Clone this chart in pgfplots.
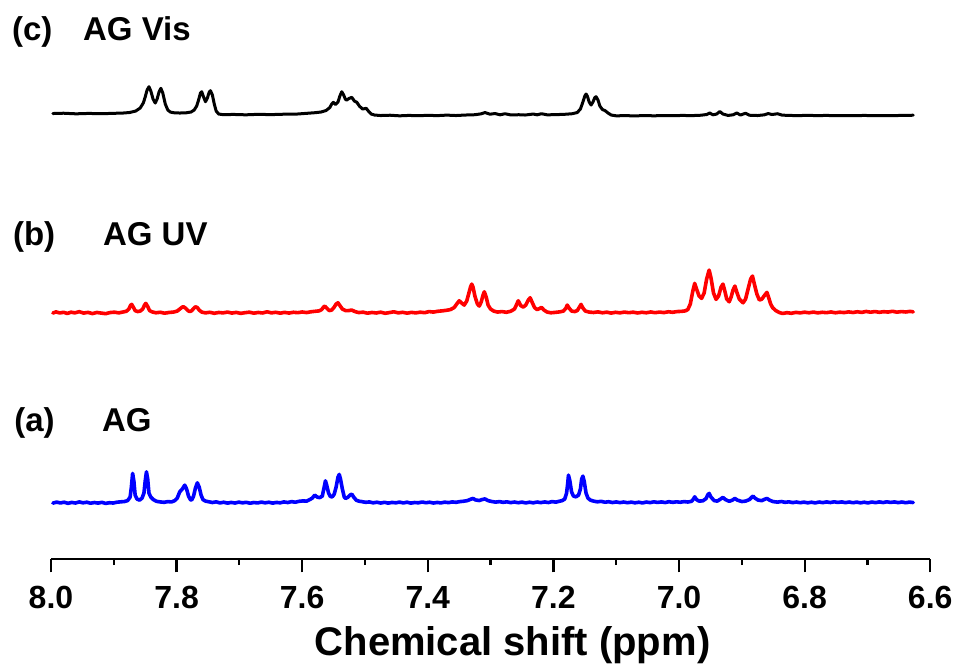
\documentclass[border=0pt]{standalone}
\usepackage{pgfplots}
\pgfplotsset{compat=1.18}
\usepackage{fontspec}
\setmainfont{Liberation Sans}
\begin{document}
\begin{tikzpicture}
\begin{axis}[
  width=439.5pt, height=279.5pt, scale only axis,
  xmin=6.6, xmax=8.0, x dir=reverse,
  ymin=0, ymax=559,
  axis x line*=bottom, axis y line=none,
  x axis line style={-, line width=1.1pt},
  ytick=\empty,
  xtick={8.0,7.8,7.6,7.4,7.2,7.0,6.8,6.6},
  xticklabels={8.0,7.8,7.6,7.4,7.2,7.0,6.8,6.6},
  minor x tick num=1,
  tick align=outside,
  major tick length=6.65pt, minor tick length=3pt,
  every tick/.style={line width=1.1pt, black},
  xticklabel style={font=\fontsize{16}{16}\selectfont\bfseries, anchor=base, yshift=-18pt, inner sep=0pt},
  clip=false,
  every axis plot/.append style={line join=round, line cap=round},
]
% (c) AG Vis
\addplot[black, line width=1.5pt] table {
x y
7.997 445.5
7.980 445.8
7.960 445.2
7.940 445.6
7.920 445.3
7.900 445.7
7.885 446.0
7.875 446.5
7.865 448
7.858 451
7.853 456
7.850 462
7.847 469
7.844 472.3
7.841 468
7.8375 460
7.834 456
7.831 460
7.828 467
7.825 470.7
7.822 466
7.818 455
7.814 449
7.810 447
7.805 446.3
7.795 446
7.785 446.2
7.777 447
7.772 449
7.768 453
7.765 459
7.762 466
7.760 467.3
7.757 462
7.754 457.3
7.751 461
7.748 467
7.746 468.3
7.743 464
7.740 455
7.737 448
7.733 445
7.725 444.3
7.710 444.6
7.690 444.2
7.670 444.7
7.650 444.4
7.630 444.8
7.610 444.9
7.595 445.6
7.580 446.3
7.570 447
7.562 448.5
7.556 451.5
7.553 455
7.5505 456.7
7.547 454.5
7.543 457
7.540 463
7.537 467.3
7.534 464
7.531 459.5
7.529 459
7.5255 460.5
7.521 461.7
7.517 458
7.513 456.7
7.509 453
7.504 450
7.498 450.7
7.494 447.5
7.490 445
7.485 444
7.475 443.5
7.460 443.8
7.445 443.2
7.430 443.6
7.415 443.3
7.400 443.7
7.385 443.4
7.370 443.9
7.355 443.5
7.340 444
7.325 444.3
7.315 445.2
7.309 446.5
7.301 444.8
7.293 445.5
7.285 444.2
7.277 445.3
7.268 444.1
7.255 444.3
7.245 444
7.232 445
7.226 444.2
7.219 445.3
7.210 444.2
7.195 444.4
7.180 444.8
7.170 445.3
7.162 446.5
7.157 450
7.153 457
7.150 463
7.148 465
7.146 463
7.143 457
7.140 454
7.137 457
7.134 461.5
7.132 462.3
7.129 459
7.126 453
7.122 449.5
7.118 448.5
7.113 446
7.108 444
7.100 443.2
7.085 443.4
7.070 443.1
7.055 443.5
7.040 443.2
7.025 443.5
7.010 443.3
6.995 443.6
6.980 443.4
6.965 443.8
6.956 444.5
6.951 446
6.946 444.2
6.940 445
6.935 447.5
6.930 445
6.922 443.6
6.914 444.2
6.908 446
6.902 444
6.894 445.8
6.888 443.8
6.875 443.5
6.864 444.2
6.858 445.5
6.852 444.5
6.843 445.3
6.836 443.9
6.825 443.6
6.810 443.4
6.795 443.7
6.780 443.4
6.765 443.6
6.750 443.3
6.735 443.5
6.720 443.3
6.705 443.6
6.690 443.3
6.675 443.5
6.660 443.4
6.645 443.6
6.627 443.8
};
% (b) AG UV
\addplot[red, line width=1.8pt] table {
x y
7.997 246.0
7.992 247.2
7.986 246.1
7.980 246.8
7.974 245.6
7.968 246.9
7.962 246.2
7.955 247.4
7.948 246.0
7.941 246.7
7.934 245.5
7.927 246.6
7.920 246.0
7.913 245.4
7.906 246.5
7.899 246.9
7.892 246.2
7.886 247.0
7.880 247.8
7.876 250
7.8735 253.5
7.8715 254.7
7.869 252
7.866 248.5
7.862 247.5
7.858 248
7.854 250
7.851 254
7.849 255.7
7.846 252.5
7.843 248.5
7.839 247.2
7.833 246.3
7.826 246.8
7.819 245.9
7.812 246.6
7.805 247.0
7.799 248
7.795 250
7.791 252
7.789 252.3
7.786 251
7.782 248.5
7.779 247.5
7.776 248.3
7.773 250.5
7.770 252.3
7.767 251.5
7.764 249
7.760 247
7.754 246.2
7.747 246.8
7.740 245.8
7.733 246.6
7.726 246.2
7.719 247.0
7.712 246.0
7.705 246.7
7.698 245.7
7.691 246.4
7.684 246.9
7.677 245.9
7.670 246.6
7.663 246.1
7.656 247.3
7.649 246.2
7.642 246.8
7.635 245.9
7.628 246.7
7.621 246.0
7.614 246.8
7.607 246.4
7.600 247.1
7.593 246.5
7.586 247.3
7.579 247.8
7.573 248.2
7.569 249.5
7.566 252
7.564 253
7.561 251
7.557 248.5
7.553 249
7.549 252
7.546 255
7.543 256.3
7.540 253.5
7.536 250
7.531 248.5
7.526 248.5
7.521 249
7.516 247.5
7.510 246.5
7.503 246.9
7.496 245.9
7.489 246.6
7.482 246.1
7.475 246.9
7.468 245.8
7.461 246.5
7.454 247.3
7.447 246.2
7.440 246.8
7.433 245.9
7.426 246.7
7.419 246.2
7.412 246.9
7.405 246.4
7.398 247.5
7.391 247.0
7.384 247.8
7.377 248.2
7.370 248.8
7.364 249.5
7.358 251.5
7.354 255
7.350 258.3
7.346 256
7.342 254
7.338 258
7.335 265
7.332 272
7.330 275
7.328 272
7.325 263
7.321 255
7.318 253
7.315 257
7.312 264
7.310 267.3
7.307 262
7.304 254
7.300 250
7.295 248
7.289 247
7.282 247.5
7.275 246.8
7.268 247.8
7.262 250
7.259 254
7.256 258.3
7.252 253.5
7.248 252
7.244 254
7.240 259
7.237 261.3
7.234 257
7.230 251.5
7.226 249.5
7.222 250.5
7.219 251.7
7.215 249
7.210 247
7.204 246.3
7.197 246.7
7.190 247.2
7.184 248
7.180 251
7.178 254
7.175 251
7.171 248
7.166 247.5
7.162 248.5
7.159 251.5
7.156 254.7
7.153 251
7.149 248
7.143 247
7.136 246.6
7.129 247.2
7.122 246.3
7.115 246.9
7.108 246.0
7.101 246.8
7.094 246.2
7.087 247.0
7.080 246.4
7.073 246.9
7.066 246.1
7.059 246.8
7.052 246.3
7.045 247.1
7.038 246.4
7.031 247.0
7.024 246.5
7.017 247.3
7.010 246.8
7.003 247.5
6.996 247.7
6.990 248.2
6.986 249.5
6.982 255
6.978 268
6.975 275.7
6.972 270
6.968 263
6.964 260.7
6.960 266
6.956 280
6.952 289
6.949 281
6.945 266
6.941 259.7
6.937 263
6.933 272
6.930 275
6.927 268
6.924 260
6.920 257.3
6.917 262
6.914 269
6.911 273
6.908 267
6.904 260
6.898 256.3
6.894 260
6.890 270
6.886 280
6.883 283
6.880 275
6.876 265
6.872 259
6.868 260
6.864 263.5
6.860 266.7
6.857 261
6.854 255
6.851 251.5
6.846 248.5
6.840 246.5
6.835 245.6
6.828 246.4
6.821 245.8
6.814 246.7
6.807 246.2
6.800 246.9
6.793 246.3
6.786 247.0
6.779 246.2
6.772 246.8
6.765 246.4
6.758 247.1
6.751 246.3
6.744 246.9
6.737 246.5
6.730 247.2
6.723 246.6
6.716 247.3
6.709 246.7
6.702 247.6
6.695 246.9
6.688 247.5
6.681 246.8
6.674 247.4
6.667 247.0
6.660 247.8
6.653 246.9
6.646 247.5
6.639 247.1
6.632 247.7
6.627 247.2
};
% (a) AG
\addplot[blue, line width=1.8pt] table {
x y
7.997 56.0
7.991 57.0
7.985 56.2
7.979 56.9
7.973 55.8
7.967 56.7
7.961 56.1
7.955 57.2
7.949 56.3
7.943 56.9
7.937 55.9
7.931 56.6
7.925 56.0
7.919 56.8
7.913 55.7
7.907 56.4
7.901 56.1
7.895 56.9
7.889 57.3
7.883 57.6
7.878 58.5
7.874 62
7.872 72
7.870 85.7
7.868 78
7.866 64
7.863 60
7.859 59
7.855 61
7.852 66
7.850 78
7.848 87.3
7.846 80
7.844 66
7.841 62
7.837 59.5
7.832 57.8
7.826 57.2
7.820 56.8
7.814 57.5
7.808 57.2
7.803 58.5
7.799 61
7.795 67.3
7.791 70
7.787 74
7.784 70
7.781 63
7.778 59.5
7.776 59
7.773 63
7.770 71
7.767 76.3
7.764 72
7.761 64
7.758 59.5
7.754 58
7.749 57.4
7.743 56.6
7.737 57.3
7.731 56.2
7.725 56.9
7.719 56.0
7.713 56.7
7.707 56.1
7.701 57.0
7.695 56.3
7.689 56.8
7.683 55.9
7.677 56.6
7.671 56.2
7.665 57.0
7.659 56.3
7.653 56.9
7.647 56.0
7.641 56.7
7.635 56.3
7.629 57.2
7.623 56.6
7.617 57.5
7.611 56.9
7.605 57.8
7.599 58.2
7.593 58.0
7.588 59.5
7.584 61
7.580 64
7.576 62
7.572 61.5
7.568 63
7.565 72
7.563 78.3
7.561 74
7.558 66
7.555 62.5
7.552 62.3
7.549 65
7.546 72
7.543 82
7.541 84.7
7.539 80
7.536 70
7.533 62
7.531 60.7
7.527 62
7.524 64
7.521 65
7.518 62
7.514 59
7.510 58
7.505 57.5
7.499 56.8
7.493 57.2
7.487 56.3
7.481 56.9
7.475 56.1
7.469 56.8
7.463 56.0
7.457 56.7
7.451 56.3
7.445 57.0
7.439 56.2
7.433 56.9
7.427 56.0
7.421 56.6
7.415 56.3
7.409 57.1
7.403 56.4
7.397 56.9
7.391 56.1
7.385 56.7
7.379 56.2
7.373 57.0
7.367 56.5
7.361 57.2
7.355 56.8
7.349 57.5
7.343 57.9
7.337 58.5
7.332 59.8
7.328 60.7
7.324 59.2
7.318 58.6
7.314 59.5
7.309 60.2
7.304 58.5
7.298 57.6
7.292 57.0
7.286 57.5
7.280 56.8
7.274 57.3
7.268 56.5
7.262 57.1
7.256 56.4
7.250 57.0
7.244 56.2
7.238 56.9
7.232 56.3
7.226 57.1
7.220 56.5
7.214 57.2
7.208 56.6
7.202 57.5
7.196 57.0
7.191 57.8
7.186 58.5
7.182 60
7.179 66
7.177 77
7.176 84
7.174 79
7.171 67
7.168 63
7.164 62.3
7.160 64
7.157 70
7.155 80
7.153 83
7.151 78
7.148 66
7.145 61
7.141 59
7.136 58
7.130 57.3
7.124 57.8
7.118 56.9
7.112 57.4
7.106 56.6
7.100 57.2
7.094 56.5
7.088 57.1
7.082 56.4
7.076 57.0
7.070 56.3
7.064 56.9
7.058 56.2
7.052 57.1
7.046 56.5
7.040 57.3
7.034 56.7
7.028 57.2
7.022 56.6
7.016 57.4
7.010 56.8
7.004 57.3
6.998 56.9
6.992 57.5
6.986 57.1
6.980 57.8
6.977 60
6.975 62.3
6.972 59.5
6.968 58
6.962 58.3
6.957 60.5
6.954 64.5
6.952 65.7
6.949 62
6.944 58.5
6.939 58
6.934 60
6.930 61.7
6.926 59.5
6.920 57.8
6.915 59
6.911 60.7
6.907 59
6.900 57.6
6.894 58
6.888 59.5
6.884 62
6.882 63
6.879 61
6.874 59
6.868 58.5
6.863 60
6.860 60.7
6.856 59
6.850 57.5
6.843 57.0
6.837 57.6
6.831 56.8
6.825 57.3
6.819 56.5
6.813 57.1
6.807 56.4
6.801 57.0
6.795 56.3
6.789 56.9
6.783 56.2
6.777 57.1
6.771 56.5
6.765 57.2
6.759 56.6
6.753 57.3
6.747 56.7
6.741 57.2
6.735 56.5
6.729 57.1
6.723 56.4
6.717 57.0
6.711 56.3
6.705 56.9
6.699 56.2
6.693 57.1
6.687 56.5
6.681 57.2
6.675 56.6
6.669 57.3
6.663 56.7
6.657 57.2
6.651 56.5
6.645 57.1
6.639 56.4
6.633 57.0
6.627 56.6
};
\begin{scope}[every node/.style={inner sep=0pt, font=\fontsize{16.5}{16.5}\selectfont\bfseries}]
\node[anchor=base west] at (axis cs:8.0626,519) {(c)};
\node[anchor=base west] at (axis cs:7.9495,519) {AG Vis};
\node[anchor=base west] at (axis cs:8.0610,314) {(b)};
\node[anchor=base west] at (axis cs:7.9177,314) {AG UV};
\node[anchor=base west] at (axis cs:8.0589,127.3) {(a)};
\node[anchor=base west] at (axis cs:7.9193,127.3) {AG};
\end{scope}
\node[anchor=base, inner sep=0pt, font=\fontsize{20}{20}\selectfont\bfseries] at (axis cs:7.2651,-96) {Chemical shift (ppm)};
\coordinate (BL) at (axis cs:8.08121,-106);
\coordinate (TR) at (axis cs:6.55732,559);
\end{axis}
\pgfresetboundingbox
\path[use as bounding box] (BL) rectangle (TR);
\end{tikzpicture}
\end{document}
